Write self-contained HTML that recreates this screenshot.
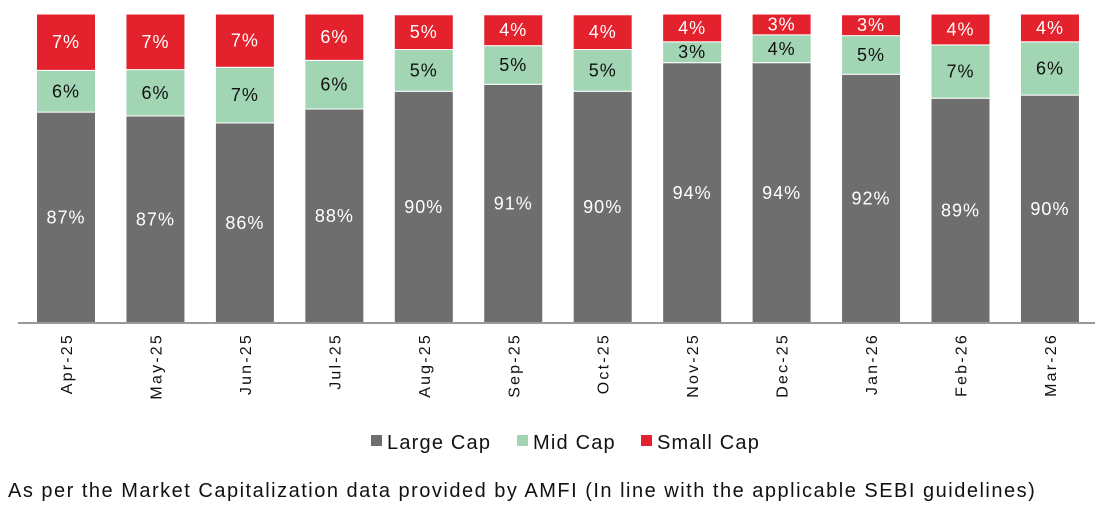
<!DOCTYPE html>
<html><head><meta charset="utf-8"><style>
body{margin:0;background:#fff;font-family:"Liberation Sans","DejaVu Sans",sans-serif;}
svg{display:block}
</style></head><body>
<svg id="chart" width="1101" height="515"></svg>
<script>
const categories=["Apr-25","May-25","Jun-25","Jul-25","Aug-25","Sep-25","Oct-25","Nov-25","Dec-25","Jan-26","Feb-26","Mar-26"];
const largeCap=[87.3,86.8,85.9,87.7,90.0,90.9,90.0,93.7,93.7,92.2,89.1,89.5];
const midCap=[5.4,6.0,7.2,6.3,5.4,5.0,5.4,2.7,3.6,5.0,6.9,6.9];
const smallCap=[7.3,7.2,6.9,6.0,4.5,4.0,4.5,3.6,2.7,2.7,4.0,3.6];
const largeLabels=["87%","87%","86%","88%","90%","91%","90%","94%","94%","92%","89%","90%"];
const midLabels=["6%","6%","7%","6%","5%","5%","5%","3%","4%","5%","7%","6%"];
const smallLabels=["7%","7%","7%","6%","5%","4%","4%","4%","3%","3%","4%","4%"];
const yMin=60,yMax=100;
const NS="http://www.w3.org/2000/svg";
const svg=document.getElementById('chart');
const plotTop=14,plotBottom=323;
function y(v){return plotBottom-(Math.max(v,yMin)-yMin)/(yMax-yMin)*(plotBottom-plotTop);}
function x(i){return 66+i*89.45;}
const bw=59;
function mk(tag,attrs,parent){const e=document.createElementNS(NS,tag);for(const k in attrs)e.setAttribute(k,attrs[k]);(parent||svg).appendChild(e);return e;}
const series=[{vals:largeCap,labels:largeLabels,color:"#6e6e6e",name:"large-cap"},{vals:midCap,labels:midLabels,color:"#a1d5b4",name:"mid-cap"},{vals:smallCap,labels:smallLabels,color:"#e3222d",name:"small-cap"}];
categories.forEach((c,i)=>{
  let base=0;
  series.forEach((s,si)=>{
    const top=base+s.vals[i];
    const r=mk('rect',{x:x(i)-bw/2,y:y(top),width:bw,height:Math.max(0,y(base)-y(top)),fill:s.color,stroke:"#fff","stroke-width":1});
    
    
    const t=mk('text',{x:x(i),y:(y(base)+y(top))/2+6,"text-anchor":"middle","font-size":18,"letter-spacing":1,fill:si==1?"#111":"#fff"});
    t.textContent=s.labels[i];
    
    
    base=top;
  });
  const lt=mk('text',{transform:`translate(${x(i)+6},333) rotate(-90)`,"text-anchor":"end","font-size":16,"letter-spacing":2.2,fill:"#111"});
  lt.textContent=c;
  
  
});
const ax=mk('line',{x1:18,x2:1095,y1:plotBottom,y2:plotBottom,stroke:"#999","stroke-width":2});


const legendItems=[["Large Cap","#6e6e6e",371],["Mid Cap","#a1d5b4",517],["Small Cap","#e3222d",641]];
legendItems.forEach(l=>{
  const g=mk('g',{});
  
  
  mk('rect',{x:l[2],y:435,width:11,height:11,fill:l[1]},g);
  const t=mk('text',{x:l[2]+16,y:449,"font-size":20,"letter-spacing":1.2,fill:"#111"},g);t.textContent=l[0];
});
const cap=mk('text',{x:8,y:497,"font-size":20,"letter-spacing":1.5,fill:"#111"});
cap.textContent="As per the Market Capitalization data provided by AMFI (In line with the applicable SEBI guidelines)";


</script>
</body></html>
